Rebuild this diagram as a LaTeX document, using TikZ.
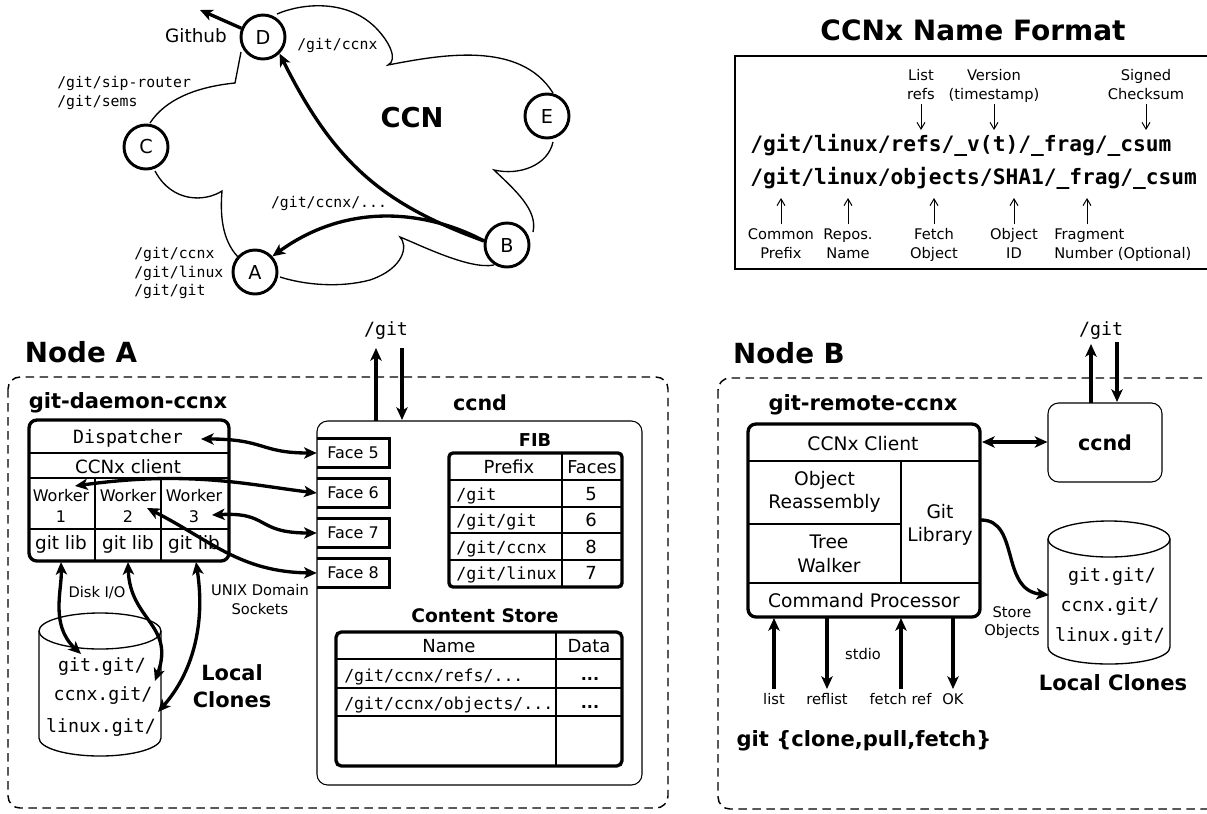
\documentclass[tikz,border=0pt]{standalone}
\usepackage{fontspec}
\setmainfont{DejaVu Sans}
\setmonofont{DejaVu Sans Mono}
\usetikzlibrary{arrows.meta}
\newcommand\fsz[1]{\fontsize{#1}{#1}\selectfont}
\tikzset{
  x=0.75pt,y=-0.75pt,
  txt/.style={inner sep=0pt,text height=#1*0.73pt,text depth=0pt,font=\fsz{#1}},
  mono/.style={inner sep=0pt,text height=#1*0.73pt,text depth=0pt,font=\fsz{#1}\ttfamily},
  head/.style={inner sep=0pt,text height=#1*0.73pt,text depth=0pt,font=\fsz{#1}\bfseries},
  monob/.style={inner sep=0pt,text height=#1*0.73pt,text depth=0pt,font=\fsz{#1}\ttfamily\bfseries},
  cnode/.style={circle,draw,line width=2.2pt,minimum size=33pt,inner sep=0pt,fill=white,font=\fsz{14.4}},
  mid line/.style={line width=1pt},
  heavy/.style={line width=2.5pt},
  framebox/.style={line width=2.5pt,rounded corners=6pt},
  softbox/.style={line width=0.8pt,rounded corners=8pt,fill=white},
  dashbox/.style={line width=1.1pt,rounded corners=9pt,dash pattern=on 6.5pt off 4pt},
  facebox/.style={inner sep=0pt,minimum width=54pt,minimum height=21pt,font=\fsz{12}},
  tipa/.style={-{Stealth[length=9.5pt,width=8.5pt,inset=2.5pt]}},
  tipb/.style={{Stealth[length=9.5pt,width=8.5pt,inset=2.5pt]}-{Stealth[length=9.5pt,width=8.5pt,inset=2.5pt]}},
  flow/.style={heavy,tipa},
  twoway/.style={heavy,tipb},
  fine/.style={line width=0.75pt,-{Straight Barb[length=5pt,width=6pt]}},
}
\begin{document}
\begin{tikzpicture}
\path[use as bounding box] (0,0) rectangle (1207,814);

% ---------- CCN cloud
\draw[mid line] (277,14) .. controls (300,4) and (345,-2) .. (375,27)
  .. controls (390,42) and (398,60) .. (388,65)
  .. controls (440,55) and (520,40) .. (553,93);
\draw[mid line] (553,142) .. controls (548,165) and (520,176) .. (494,170)
  .. controls (515,190) and (538,210) .. (533,232);
\draw[mid line] (494,265) .. controls (470,270) and (420,245) .. (400,237)
  .. controls (408,245) and (405,268) .. (370,280)
  .. controls (340,288) and (305,285) .. (280,277);
\draw[mid line] (238,257) .. controls (222,240) and (220,215) .. (222,191)
  .. controls (205,202) and (172,203) .. (155,171);
\draw[mid line] (150,123) .. controls (165,100) and (195,87) .. (235,83) -- (241,52);

\node[cnode] (D) at (263,37) {D};
\node[cnode] (C) at (146,147) {C};
\node[cnode] (E) at (547,116) {E};
\node[cnode] (B) at (507,245) {B};
\node[cnode] (A) at (255,272) {A};

\node[head=20.5] (ccnlabel) at (412,118) {CCN};
\node[txt=13.8] (github) at (196,36) {Github};
\node[mono=11.1,anchor=west] (lbD) at (297,44) {/git/ccnx};
\node[mono=11.1,anchor=west] (lbC1) at (57,82) {/git/sip-router};
\node[mono=11.1,anchor=west] (lbC2) at (57,101) {/git/sems};
\node[mono=11.1] (lbB) at (329,202) {/git/ccnx/...};
\node[mono=11.1,anchor=west] (lbA1) at (134,253) {/git/ccnx};
\node[mono=11.1,anchor=west] (lbA2) at (134,272) {/git/linux};
\node[mono=11.1,anchor=west] (lbA3) at (134,290) {/git/git};

\coordinate (ghout) at (200,10);
\draw[flow] (D.158) -- (ghout);
\draw[flow] (B.170) .. controls (385,205) and (335,165) .. (D.-45);
\draw[flow] (B.170) .. controls (430,212) and (350,200) .. (A.42);

% ---------- Name format
\node[head=21] (nftitle) at (973,30) {CCNx Name Format};
\draw[line width=1.2pt] (1215,56) -- (735,56) -- (735,269) -- (1215,269);
\node[txt=11] (t1a) at (921,75) {List};
\node[txt=11] (t1b) at (921,94) {refs};
\node[txt=11] (t2a) at (994,75) {Version};
\node[txt=11] (t2b) at (994,94) {(timestamp)};
\node[txt=11] (t3a) at (1146,75) {Signed};
\node[txt=11] (t3b) at (1146,94) {Checksum};
\node[monob=15.9,anchor=west] (n1) at (750,144) {/git/linux/refs/\_v(t)/\_frag/\_csum};
\node[monob=15.9,anchor=west] (n2) at (750,177) {/git/linux/objects/SHA1/\_frag/\_csum};
\node[txt=11] (b1a) at (781,234) {Common};
\node[txt=11] (b1b) at (781,253) {Prefix};
\node[txt=11] (b2a) at (848,234) {Repos.};
\node[txt=11] (b2b) at (848,253) {Name};
\node[txt=11] (b3a) at (934,234) {Fetch};
\node[txt=11] (b3b) at (934,253) {Object};
\node[txt=11] (b4a) at (1014,234) {Object};
\node[txt=11] (b4b) at (1014,253) {ID};
\node[txt=11,anchor=west] (b5a) at (1054,234) {Fragment};
\node[txt=11,anchor=west] (b5b) at (1054,253) {Number (Optional)};
\foreach \nm/\px in {p1/921,p2/994,p3/1146}{
  \coordinate (\nm s) at (\px,104);
  \coordinate (\nm e) at (\px,130);
  \draw[fine] (\nm s) -- (\nm e);
}
\foreach \nm/\px in {q1/781,q2/848,q3/934,q4/1014,q5/1087}{
  \coordinate (\nm s) at (\px,224);
  \coordinate (\nm e) at (\px,198);
  \draw[fine] (\nm s) -- (\nm e);
}

% ---------- Node A
\node[head=20.8] (nodeA) at (81,352) {Node A};
\draw[dashbox] (8,377) rectangle (668,808);
\node[head=15.8] (gdc) at (128,401) {git-daemon-ccnx};

% daemon box
\draw[mid line] (28,453) -- (229,453);
\draw[mid line] (28,478) -- (229,478);
\draw[mid line] (28,529) -- (229,529);
\draw[mid line] (95,478) -- (95,561);
\draw[mid line] (161,478) -- (161,561);
\draw[framebox] (29,420) rectangle (229,561);
\node[mono=13.7] (disp) at (128,437) {Dispatcher};
\node[txt=13.7] (cli) at (128,467) {CCNx client};
\node[txt=12] (w1) at (61,496) {Worker};
\node[txt=12] (w2) at (128,496) {Worker};
\node[txt=12] (w3) at (194,496) {Worker};
\node[txt=12] (w1n) at (61,517) {1};
\node[txt=12] (w2n) at (128,517) {2};
\node[txt=12] (w3n) at (194,517) {3};
\node[txt=13.8] (l1) at (61,543) {git lib};
\node[txt=13.8] (l2) at (128,543) {git lib};
\node[txt=13.8] (l3) at (194,543) {git lib};

% clone cylinder A
\draw[mid line] (39,631) -- (39,738) .. controls (39,748) and (66,756) .. (100,756)
  .. controls (134,756) and (161,748) .. (161,738) -- (161,631);
\draw[mid line] (100,631) ellipse [x radius=61,y radius=18];
\node[mono=13.7] (ag) at (102,665) {git.git/};
\node[mono=13.7] (ac) at (103,694) {ccnx.git/};
\node[mono=13.7] (al) at (101,726) {linux.git/};
\node[txt=11] (disk) at (97,592) {Disk I/O};
\node[txt=11] (ux1) at (260,590) {UNIX Domain};
\node[txt=11] (ux2) at (260,609) {Sockets};
\node[head=15.7] (lc1) at (232,673) {Local};
\node[head=15.7] (lc2) at (232,700) {Clones};

% ccnd box
\draw[softbox] (317,421) rectangle (642,785);
\node[head=15.5] (ccndA) at (480,403) {ccnd};
\node[mono=13.7] (gitA) at (386,329) {/git};
\coordinate (gitAup) at (376,348);
\coordinate (gitAupb) at (376,421);
\coordinate (gitAdn) at (402,348);
\coordinate (gitAdnb) at (402,420);
\draw[flow] (gitAupb) -- (gitAup);
\draw[flow] (gitAdn) -- (gitAdnb);

\foreach \nm/\yy/\lbl in {f5/453/Face 5,f6/493/Face 6,f7/533/Face 7,f8/573/Face 8}{
  \node[facebox] (\nm) at (353,\yy) {\lbl};
  \draw[line width=2.2pt] (\nm.north west) -- (\nm.north east) -- (\nm.south east) -- (\nm.south west);
}

% FIB
\node[head=13.3] (fibt) at (535,440) {FIB};
\foreach \yy in {480,507,533,560}{\draw[mid line] (449,\yy) -- (622,\yy);}
\draw[mid line] (562,453) -- (562,587);
\draw[framebox,rounded corners=3pt] (449,453) rectangle (622,587);
\node[txt=13.5] (fp) at (509,467) {Prefix};
\node[txt=13.3] (ff) at (592,467) {Faces};
\node[mono=12.5,anchor=west] (fr1) at (456,494) {/git};
\node[mono=12.5,anchor=west] (fr2) at (456,520) {/git/git};
\node[mono=12.5,anchor=west] (fr3) at (456,547) {/git/ccnx};
\node[mono=12.5,anchor=west] (fr4) at (456,573) {/git/linux};
\node[txt=13.5] (fn1) at (591,494) {5};
\node[txt=13.5] (fn2) at (591,520) {6};
\node[txt=13.5] (fn3) at (591,547) {8};
\node[txt=13.5] (fn4) at (591,573) {7};

% Content store
\node[head=14] (cst) at (485,616) {Content Store};
\draw[line width=1.8pt] (336,659) -- (622,659);
\foreach \yy in {688,716}{\draw[mid line] (336,\yy) -- (622,\yy);}
\draw[mid line] (556,632) -- (556,766);
\draw[framebox,rounded corners=4pt] (336,632) rectangle (622,766);
\node[txt=13.5] (csn) at (449,646) {Name};
\node[txt=13.5] (csd) at (589,646) {Data};
\node[mono=12.4,anchor=west] (cs1) at (344,675) {/git/ccnx/refs/...};
\node[mono=12.4,anchor=west] (cs2) at (344,703) {/git/ccnx/objects/...};
\node[head=12] (cd1) at (590,675) {...};
\node[head=12] (cd2) at (590,703) {...};

% Node A connectors
\coordinate (dispe) at (201,439);
\coordinate (w1e) at (75,486);
\coordinate (w3e) at (212,515);
\coordinate (w2e) at (147,508);
\draw[twoway] (dispe) .. controls (265,439) and (260,453) .. (f5.west);
\draw[twoway] (w1e) .. controls (190,470) and (250,485) .. (f6.west);
\draw[twoway] (w3e) .. controls (270,512) and (255,533) .. (f7.west);
\draw[twoway] (w2e) .. controls (210,540) and (240,572) .. (f8.west);
\coordinate (c1a) at (61,562);
\coordinate (c1b) at (81,654);
\coordinate (c2a) at (128,562);
\coordinate (c2b) at (155,681);
\coordinate (c3a) at (196,562);
\coordinate (c3b) at (158,712);
\draw[twoway] (c1a) .. controls (62,590) and (50,625) .. (c1b);
\draw[twoway] (c2a) .. controls (130,620) and (175,625) .. (c2b);
\draw[twoway] (c3a) .. controls (205,620) and (195,670) .. (c3b);

% ---------- Node B
\node[head=20.8] (nodeB) at (789,353) {Node B};
\draw[dashbox] (718,378) rectangle (1222,809);
\node[head=15.8] (grc) at (863,403) {git-remote-ccnx};
\draw[mid line] (748,461) -- (980,461);
\draw[mid line] (748,583) -- (980,583);
\draw[mid line] (901,461) -- (901,583);
\draw[mid line] (748,524) -- (901,524);
\draw[framebox] (748,424) rectangle (980,617);
\node[txt=14] (cc) at (863,444) {CCNx Client};
\node[txt=14] (or1) at (824.5,479) {Object};
\node[txt=14] (or2) at (824.5,502) {Reassembly};
\node[txt=14] (tw1) at (829,542) {Tree};
\node[txt=14] (tw2) at (829,566) {Walker};
\node[txt=14] (gl1) at (940,512) {Git};
\node[txt=14] (gl2) at (940,535) {Library};
\node[txt=14] (cp) at (864,601) {Command Processor};

\node[draw,line width=0.8pt,rounded corners=8pt,minimum width=85.5pt,minimum height=59.25pt,inner sep=0pt,text height=11.3pt,text depth=0pt,font=\fsz{15.5}\bfseries] (ccndB) at (1105,442.5) {ccnd};
\node[mono=13.7] (gitB) at (1101,329) {/git};
\coordinate (gbup) at (1091,344);
\coordinate (gbupb) at (1091,403);
\coordinate (gbdn) at (1117,342);
\coordinate (gbdnb) at (1117,402);
\draw[flow] (gbupb) -- (gbup);
\draw[flow] (gbdn) -- (gbdnb);
\coordinate (ccl) at (982,442);
\draw[twoway] (ccl) -- (ccndB.west |- ccl);

\draw[mid line] (1048,539) -- (1048,647) .. controls (1048,657) and (1075,664) .. (1109,664)
  .. controls (1143,664) and (1170,657) .. (1170,647) -- (1170,539);
\draw[mid line] (1109,539) ellipse [x radius=61,y radius=18];
\node[mono=13.7] (bg) at (1112,575) {git.git/};
\node[mono=13.7] (bc) at (1110,605) {ccnx.git/};
\node[mono=13.7] (bl) at (1110,635) {linux.git/};
\node[txt=11] (so1) at (1012,612) {Store};
\node[txt=11] (so2) at (1012,630) {Objects};
\node[head=15.8] (lcb) at (1113,683) {Local Clones};

\coordinate (sos) at (981,520);
\coordinate (soe) at (1049,595);
\draw[flow] (sos) .. controls (1020,520) and (1000,590) .. (soe);

\node[txt=11] (oplist) at (774,699) {list};
\node[txt=11] (oprefl) at (827,699) {reflist};
\node[txt=11] (opfet) at (900.5,699) {fetch ref};
\node[txt=11] (opok) at (953,699) {OK};
\node[txt=11] (stdio) at (863,654) {stdio};
\foreach \nm/\px in {sa/774,sc/901}{
  \coordinate (\nm b) at (\px,689);
  \coordinate (\nm t) at (\px,618);
  \draw[flow] (\nm b) -- (\nm t);
}
\foreach \nm/\px in {sb/827,sd/953}{
  \coordinate (\nm t) at (\px,617);
  \coordinate (\nm b) at (\px,689);
  \draw[flow] (\nm t) -- (\nm b);
}
\node[head=15.8] (gitcmd) at (864,739) {git \{clone,pull,fetch\}};
\end{tikzpicture}
\end{document}
